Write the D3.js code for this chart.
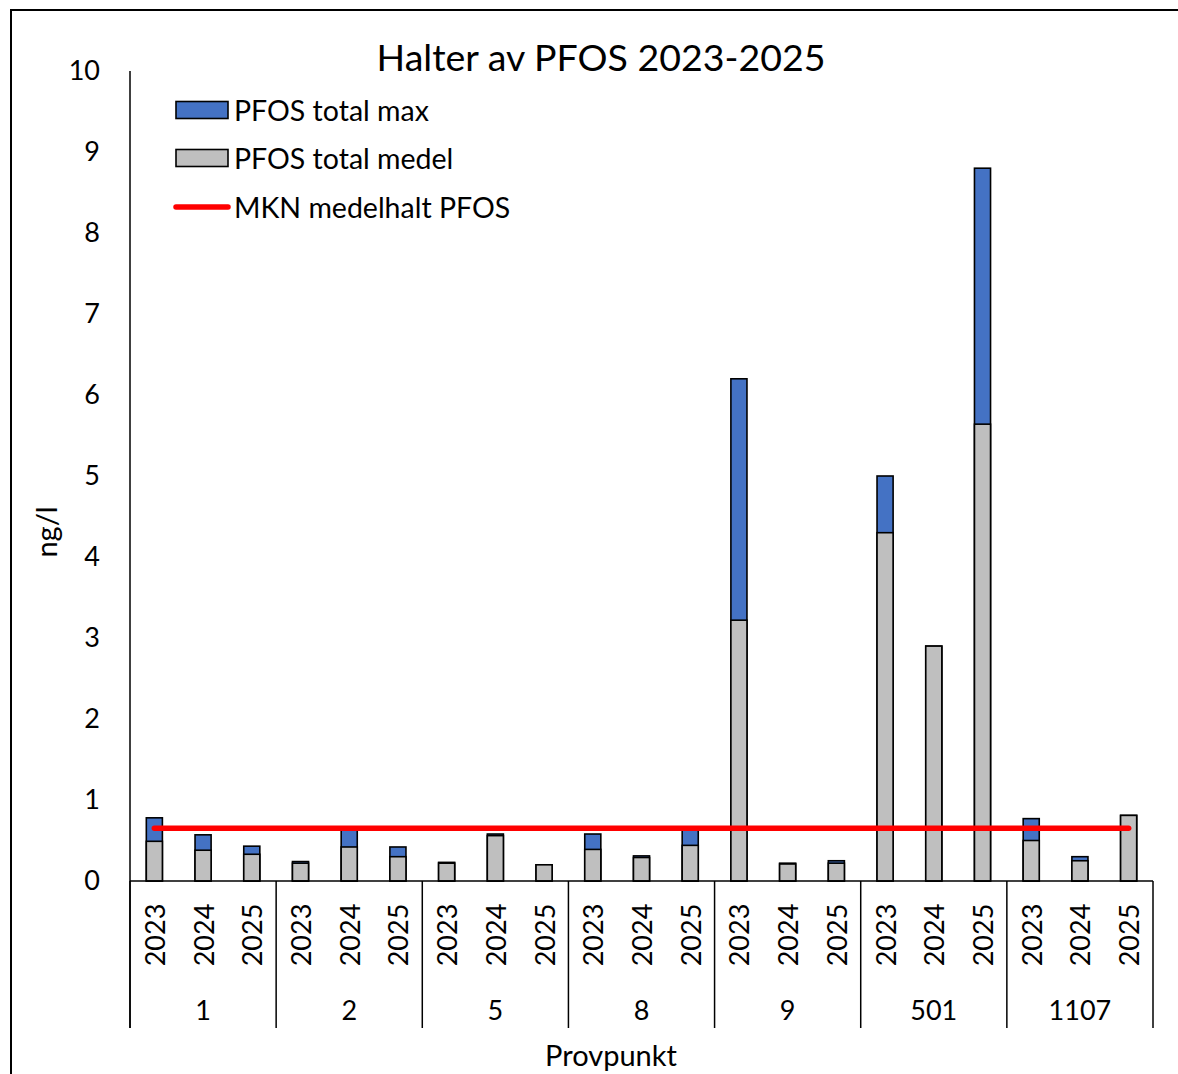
<!DOCTYPE html>
<html>
<head>
<meta charset="utf-8">
<script src="https://cdn.jsdelivr.net/npm/d3@7"></script>
<style>
  html, body { margin: 0; padding: 0; background: #fff; }
  svg { display: block; }
  text { font-family: Lato, "Open Sans", sans-serif; fill: #000; }
</style>
</head>
<body>
<svg id="chart" width="1178" height="1074"></svg>
<script>
// Provpunkt (sampling points) and sampling years
const groups = ["1", "2", "5", "8", "9", "501", "1107"];
const years = ["2023", "2024", "2025"];

// PFOS total, ng/l, per point and year (in group order, then year order)
const pfosMax = [0.78, 0.57, 0.43, 0.24, 0.64, 0.42, 0.23, 0.58, 0.20, 0.58, 0.31, 0.63,
                 6.20, 0.22, 0.25, 5.00, 2.90, 8.80, 0.77, 0.30, 0.81];
const pfosMedel = [0.49, 0.38, 0.33, 0.22, 0.42, 0.30, 0.22, 0.56, 0.20, 0.39, 0.29, 0.44,
                   3.22, 0.21, 0.22, 4.30, 2.90, 5.64, 0.50, 0.25, 0.81];

// Environmental quality standard (annual average) for PFOS, ng/l
const mknValue = 0.65;

const yTicks = [0, 1, 2, 3, 4, 5, 6, 7, 8, 9, 10];

const series = [
  { name: "PFOS total max", values: pfosMax, color: "#4472C4" },
  { name: "PFOS total medel", values: pfosMedel, color: "#BFBFBF" }
];

const rows = [];
groups.forEach((g, gi) => years.forEach((yr, yi) => {
  const i = gi * years.length + yi;
  rows.push({ group: g, year: yr, max: pfosMax[i], medel: pfosMedel[i] });
}));

const svg = d3.select("#chart");
const plotLeft = 130, plotRight = 1153, plotTop = 71, plotBottom = 881, catBottom = 1028;

const x0 = d3.scaleBand().domain(groups).range([plotLeft, plotRight]).padding(0);
const x1 = d3.scaleBand().domain(years).range([0, x0.bandwidth()])
  .paddingInner(0.67).paddingOuter(0.335);
const y = d3.scaleLinear().domain([0, 10]).range([plotBottom, plotTop]);
const cx = d => x0(d.group) + x1(d.year) + x1.bandwidth() / 2;

// outer chart frame
svg.append("rect").attr("x", 11).attr("y", 10).attr("width", 1200).attr("height", 1100)
  .attr("fill", "none").attr("stroke", "#000").attr("stroke-width", 2);

// title
svg.append("text").attr("x", 601).attr("y", 71).attr("text-anchor", "middle")
  .attr("font-size", 37.5).text("Halter av PFOS 2023-2025");

// y axis (line only, no tick marks)
const yAxis = d3.axisLeft(y).tickValues(yTicks).tickSize(0).tickPadding(30);
const gy = svg.append("g").attr("transform", `translate(${plotLeft},0)`).call(yAxis);
gy.select(".domain").remove();
gy.selectAll("text").attr("font-size", 27).attr("font-family", "Lato").attr("fill", "#000");
svg.append("line").attr("x1", plotLeft).attr("x2", plotLeft).attr("y1", plotTop).attr("y2", catBottom)
  .attr("stroke", "#000").attr("stroke-width", 1.5);

// y axis title
svg.append("text").attr("transform", "translate(45,532) rotate(-90)")
  .attr("text-anchor", "middle").attr("dominant-baseline", "central")
  .attr("font-size", 29).text("ng/l");

// bars: max drawn first, medel overlaid from the baseline
series.forEach(s => {
  svg.append("g").selectAll("rect").data(rows).join("rect")
    .attr("x", d => x0(d.group) + x1(d.year))
    .attr("width", x1.bandwidth())
    .attr("y", (d, i) => y(s.values[i]))
    .attr("height", (d, i) => y(0) - y(s.values[i]))
    .attr("fill", s.color).attr("stroke", "#000").attr("stroke-width", 1.6);
});

// MKN line across all categories
const mknLine = d3.line().x(d => d[0]).y(d => y(d[1]));
svg.append("path")
  .attr("d", mknLine([[cx(rows[0]), mknValue], [cx(rows[rows.length - 1]), mknValue]]))
  .attr("stroke", "#FF0000").attr("stroke-width", 5.5).attr("stroke-linecap", "round")
  .attr("fill", "none");

// x axis baseline
svg.append("line").attr("x1", plotLeft).attr("x2", plotRight).attr("y1", plotBottom).attr("y2", plotBottom)
  .attr("stroke", "#000").attr("stroke-width", 1.5);

// group dividers
const dividers = groups.map(g => x0(g)).concat([plotRight]);
svg.append("g").selectAll("line").data(dividers).join("line")
  .attr("x1", d => d).attr("x2", d => d).attr("y1", plotBottom).attr("y2", catBottom)
  .attr("stroke", "#000").attr("stroke-width", 1.5);

// year labels (rotated)
svg.append("g").selectAll("text").data(rows).join("text")
  .attr("transform", d => `translate(${cx(d)},935) rotate(-90)`)
  .attr("text-anchor", "middle").attr("dominant-baseline", "central")
  .attr("font-size", 27).text(d => d.year);

// group labels
svg.append("g").selectAll("text").data(groups).join("text")
  .attr("x", g => x0(g) + x0.bandwidth() / 2).attr("y", 1020)
  .attr("text-anchor", "middle").attr("font-size", 27).text(g => g);

// x axis title
svg.append("text").attr("x", 611).attr("y", 1066).attr("text-anchor", "middle")
  .attr("font-size", 29).text("Provpunkt");

// legend
const legend = svg.append("g");
const legendItems = [
  { name: series[0].name, color: series[0].color, type: "rect", cy: 110 },
  { name: series[1].name, color: series[1].color, type: "rect", cy: 158 },
  { name: "MKN medelhalt PFOS", color: "#FF0000", type: "line", cy: 207 }
];
legendItems.forEach(it => {
  if (it.type === "rect") {
    legend.append("rect").attr("x", 176).attr("y", it.cy - 8.5).attr("width", 52).attr("height", 17)
      .attr("fill", it.color).attr("stroke", "#000").attr("stroke-width", 1.6);
  } else {
    legend.append("line").attr("x1", 176).attr("x2", 228).attr("y1", it.cy).attr("y2", it.cy)
      .attr("stroke", it.color).attr("stroke-width", 5.5).attr("stroke-linecap", "round");
  }
  legend.append("text").attr("x", 234).attr("y", it.cy).attr("dominant-baseline", "central")
    .attr("font-size", 28.5).text(it.name);
});
</script>
</body>
</html>
